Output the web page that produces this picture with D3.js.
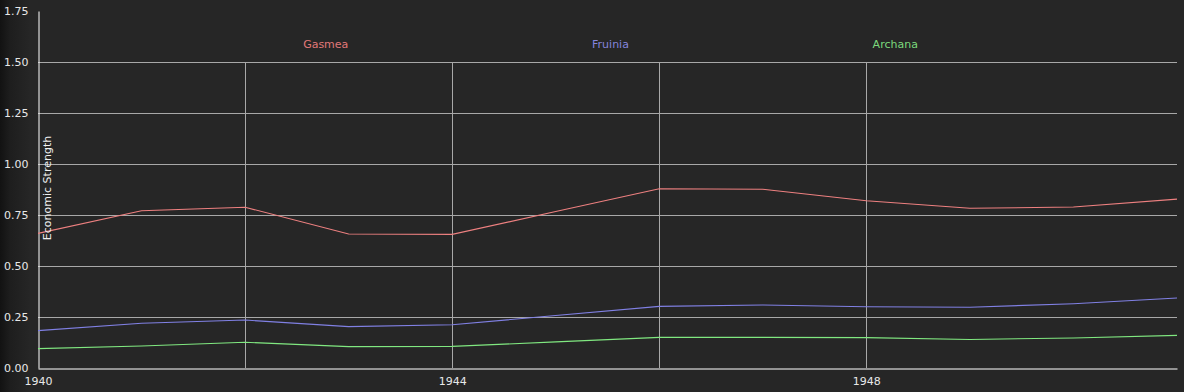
<!DOCTYPE html>
<html><head><meta charset="utf-8">
<script src="https://cdn.jsdelivr.net/npm/d3@7"></script>
<style>
html,body{margin:0;padding:0;background:#262626;}
svg{display:block;}
</style></head>
<body>
<svg id="chart" width="1184" height="392"></svg>
<script>
const years = [1940,1941,1942,1943,1944,1945,1946,1947,1948,1949,1950,1951];
const gasmea  = [0.66,0.771,0.788,0.657,0.655,0.767,0.879,0.876,0.82,0.783,0.789,0.828];
const fruinia = [0.183,0.219,0.235,0.203,0.212,0.257,0.302,0.309,0.300,0.298,0.315,0.343];
const archana = [0.095,0.108,0.126,0.105,0.106,0.128,0.150,0.150,0.149,0.140,0.147,0.160];
const seriesNames = ["Gasmea","Fruinia","Archana"];
const seriesColors = ["#ee8080","#8080e4","#80e880"];
const labelColors = ["#e07878","#8484dc","#7cd87c"];
const yTicks = [0,0.25,0.5,0.75,1.0,1.25,1.5,1.75];
const hGrid = [0.25,0.5,0.75,1.0,1.25,1.5];
const xTicks = [1940,1944,1948];
const vGrid = [1942,1944,1946,1948];
const yLabel = "Economic Strength";

const svg = d3.select("#chart");
const W = 1184, H = 392;
const m = {left:38, right:7, top:11, bottom:24};

const defs = svg.append("defs");
const g0 = defs.append("linearGradient").attr("id","lg").attr("x1","0").attr("x2","1");
g0.append("stop").attr("offset","0").attr("stop-color","#121212");
g0.append("stop").attr("offset","0.35").attr("stop-color","#1e1e1e");
g0.append("stop").attr("offset","1").attr("stop-color","#262626");
svg.append("rect").attr("width",W).attr("height",H).attr("fill","#262626");
svg.append("rect").attr("width",30).attr("height",H).attr("fill","url(#lg)");

const x = d3.scaleLinear().domain([1940,1951]).range([m.left, W-m.right]);
const y = d3.scaleLinear().domain([0,1.75]).range([H-m.bottom, m.top]);

// grid
svg.append("g").selectAll("line").data(hGrid).join("line")
  .attr("x1",x(1940)).attr("x2",x(1951))
  .attr("y1",d=>Math.round(y(d))+0.5).attr("y2",d=>Math.round(y(d))+0.5)
  .attr("stroke","#a8a8a8").attr("stroke-width",1);
svg.append("g").selectAll("line").data(vGrid).join("line")
  .attr("x1",d=>Math.round(x(d))+0.5).attr("x2",d=>Math.round(x(d))+0.5)
  .attr("y1",Math.round(y(1.5))).attr("y2",y(0))
  .attr("stroke","#a8a8a8").attr("stroke-width",1);

// axes
const yAxis = d3.axisLeft(y).tickValues(yTicks).tickFormat(d3.format(".2f")).tickSize(0).tickPadding(10);
const ya = svg.append("g").attr("transform",`translate(${m.left+0.5},0)`).call(yAxis);
ya.select(".domain").attr("stroke","#ffffff");
ya.selectAll("text").attr("fill","#e8e8e8").style("font-family","DejaVu Sans").style("font-size","11px");

const xAxis = d3.axisBottom(x).tickValues(xTicks).tickFormat(d3.format("d")).tickSize(0).tickPadding(9);
const xa = svg.append("g").attr("transform",`translate(0,${Math.round(y(0))+0.5})`).call(xAxis);
xa.select(".domain").attr("stroke","#ffffff");
xa.selectAll("text").attr("fill","#e8e8e8").style("font-family","DejaVu Sans").style("font-size","11px");

// lines
const data = [gasmea, fruinia, archana];
const line = d3.line().x((d,i)=>x(years[i])).y(d=>y(d));
svg.append("g").selectAll("path").data(data).join("path")
  .attr("d",line).attr("fill","none")
  .attr("stroke",(d,i)=>seriesColors[i]).attr("stroke-width",1.1);

// y label
svg.append("text").attr("transform",`translate(51,188) rotate(-90)`)
  .attr("text-anchor","middle").attr("fill","#f0f0f0")
  .style("font-family","DejaVu Sans").style("font-size","11px").text(yLabel);

// legend
const pw = x(1951)-x(1940);
svg.append("g").selectAll("text").data(seriesNames).join("text")
  .attr("x",(d,i)=>m.left + pw*(i+1)/4 + 3)
  .attr("y",48).attr("text-anchor","middle")
  .attr("fill",(d,i)=>labelColors[i])
  .style("font-family","DejaVu Sans").style("font-size","11px").text(d=>d);
</script>
</body></html>
